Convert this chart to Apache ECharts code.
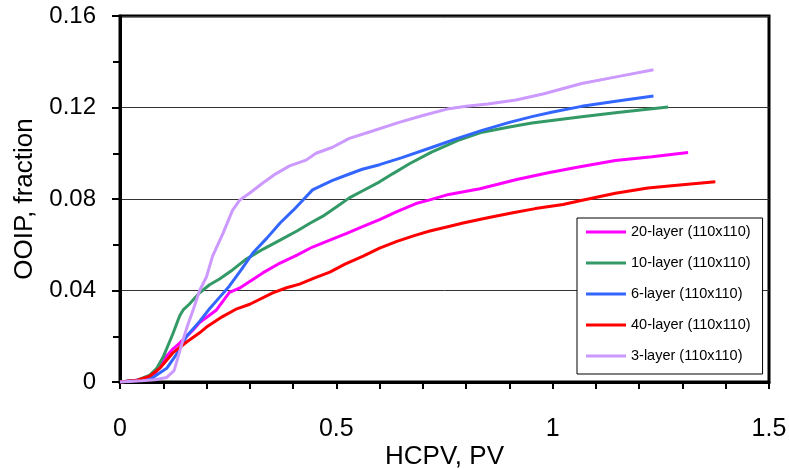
<!DOCTYPE html>
<html>
<head>
<meta charset="utf-8">
<script src="https://cdn.jsdelivr.net/npm/echarts@6/dist/echarts.min.js"></script>
<style>
html,body{margin:0;padding:0;background:#fff;}
#chart{width:789px;height:469px;}
</style>
</head>
<body>
<div id="chart"></div>
<script>
var seriesNames = ['20-layer (110x110)', '10-layer (110x110)', '6-layer (110x110)', '40-layer (110x110)', '3-layer (110x110)'];
var seriesColors = ['#FF00FF', '#339966', '#3366FF', '#FF0000', '#CC99FF'];

var layer20 = [[0,0],[0.05,0.001],[0.076,0.002],[0.1,0.0096],[0.12,0.014],[0.138,0.017],[0.17,0.023],[0.184,0.026],[0.223,0.0315],[0.253,0.0392],[0.276,0.041],[0.33,0.0477],[0.37,0.052],[0.409,0.0555],[0.445,0.059],[0.485,0.062],[0.524,0.065],[0.562,0.068],[0.6,0.071],[0.64,0.0745],[0.684,0.078],[0.716,0.0796],[0.76,0.082],[0.832,0.0845],[0.917,0.0885],[0.99,0.0915],[1.06,0.094],[1.145,0.0968],[1.23,0.0985],[1.313,0.1003]];
var layer10 = [[0,0],[0.04,0.0008],[0.069,0.003],[0.085,0.006],[0.1,0.011],[0.122,0.021],[0.138,0.029],[0.146,0.0315],[0.16,0.034],[0.184,0.039],[0.207,0.0425],[0.23,0.045],[0.26,0.049],[0.29,0.0535],[0.33,0.058],[0.37,0.062],[0.409,0.066],[0.44,0.0695],[0.469,0.0725],[0.5,0.0765],[0.53,0.0805],[0.56,0.0835],[0.6,0.0875],[0.63,0.091],[0.67,0.0955],[0.72,0.1005],[0.78,0.1055],[0.837,0.1092],[0.9,0.1115],[0.952,0.1132],[1.067,0.116],[1.15,0.1178],[1.267,0.1202]];
var layer6 = [[0,0],[0.05,0.001],[0.076,0.002],[0.108,0.006],[0.13,0.012],[0.154,0.02],[0.184,0.0265],[0.207,0.032],[0.23,0.037],[0.253,0.042],[0.28,0.049],[0.307,0.0564],[0.34,0.063],[0.37,0.0695],[0.4,0.075],[0.423,0.0796],[0.445,0.084],[0.462,0.0855],[0.49,0.088],[0.524,0.0905],[0.56,0.093],[0.6,0.095],[0.65,0.098],[0.72,0.1025],[0.78,0.1065],[0.837,0.11],[0.9,0.1135],[0.952,0.116],[1.0,0.118],[1.067,0.1205],[1.15,0.1228],[1.233,0.125]];
var layer40 = [[0,0],[0.04,0.0008],[0.069,0.0026],[0.092,0.006],[0.122,0.0127],[0.154,0.0175],[0.184,0.0215],[0.2,0.024],[0.237,0.0286],[0.27,0.032],[0.3,0.034],[0.353,0.039],[0.385,0.0412],[0.415,0.0428],[0.45,0.0455],[0.485,0.048],[0.52,0.0515],[0.562,0.055],[0.6,0.0585],[0.64,0.0615],[0.68,0.064],[0.716,0.066],[0.76,0.068],[0.793,0.0695],[0.85,0.0718],[0.908,0.074],[0.96,0.0758],[1.024,0.0776],[1.063,0.0792],[1.145,0.0825],[1.22,0.0848],[1.3,0.0862],[1.376,0.0875]];
var layer3 = [[0,0],[0.05,0.0005],[0.08,0.001],[0.108,0.002],[0.125,0.005],[0.145,0.018],[0.155,0.024],[0.17,0.032],[0.184,0.04],[0.2,0.046],[0.214,0.055],[0.238,0.065],[0.26,0.075],[0.277,0.0796],[0.3,0.0826],[0.33,0.087],[0.36,0.091],[0.392,0.0945],[0.43,0.097],[0.453,0.1],[0.49,0.1025],[0.53,0.1065],[0.58,0.1095],[0.645,0.1135],[0.7,0.1165],[0.76,0.1195],[0.8,0.1205],[0.85,0.1215],[0.915,0.1233],[0.98,0.126],[1.067,0.1305],[1.15,0.1335],[1.233,0.1365]];

var seriesData = [layer20, layer10, layer6, layer40, layer3];

var xMin = 0, xMax = 1.5, xInterval = 0.5;
var yMin = 0, yMax = 0.16, yInterval = 0.04;
var xTitle = 'HCPV, PV';
var yTitle = 'OOIP, fraction';

var FONT = "'Liberation Sans', Arial, sans-serif";
var chart = echarts.init(document.getElementById('chart'), null, {renderer: 'canvas'});

var series = seriesNames.map(function (n, i) {
  return {
    name: n,
    type: 'line',
    data: seriesData[i],
    showSymbol: false,
    symbol: 'none',
    smooth: false,
    lineStyle: {color: seriesColors[i], width: 3},
    itemStyle: {color: seriesColors[i]},
    z: 2 + i
  };
});

chart.setOption({
  animation: false,
  backgroundColor: '#fff',
  grid: {
    left: 120, right: 20, top: 16, bottom: 87,
    containLabel: false,
    outerBoundsMode: 'none',
    show: true, borderColor: '#000', borderWidth: 3, backgroundColor: 'transparent'
  },
  legend: {
    orient: 'vertical',
    left: 577, top: 218,
    data: seriesNames,
    icon: 'rect',
    itemWidth: 40, itemHeight: 3,
    itemGap: 15,
    padding: [6, 12, 10, 9],
    backgroundColor: '#fff',
    borderColor: '#000', borderWidth: 1,
    textStyle: {fontFamily: FONT, fontSize: 14.5, color: '#000', lineHeight: 16}
  },
  xAxis: {
    type: 'value', min: xMin, max: xMax, interval: xInterval,
    name: xTitle, nameLocation: 'middle', nameGap: 62, nameMoveOverlap: false,
    nameTextStyle: {fontFamily: FONT, fontSize: 26, color: '#000'},
    axisLine: {show: true, onZero: false, lineStyle: {color: '#000', width: 3}},
    axisTick: {show: true, inside: false, length: 7, lineStyle: {color: '#000', width: 2}},
    minorTick: {show: true, splitNumber: 5, length: 7, lineStyle: {color: '#000', width: 2}},
    axisLabel: {fontFamily: FONT, fontSize: 25, color: '#000', margin: 35},
    splitLine: {show: false}
  },
  yAxis: {
    type: 'value', min: yMin, max: yMax, interval: yInterval,
    name: yTitle, nameLocation: 'middle', nameGap: 82, nameMoveOverlap: false,
    nameTextStyle: {fontFamily: FONT, fontSize: 26, color: '#000'},
    axisLine: {show: true, onZero: false, lineStyle: {color: '#000', width: 3}},
    axisTick: {show: true, inside: false, length: 8, lineStyle: {color: '#000', width: 2}},
    minorTick: {show: true, splitNumber: 2, length: 7, lineStyle: {color: '#000', width: 2}},
    axisLabel: {fontFamily: FONT, fontSize: 24, color: '#000', margin: 24},
    splitLine: {show: true, lineStyle: {color: '#333', width: 1}}
  },
  series: series
});
</script>
</body>
</html>
